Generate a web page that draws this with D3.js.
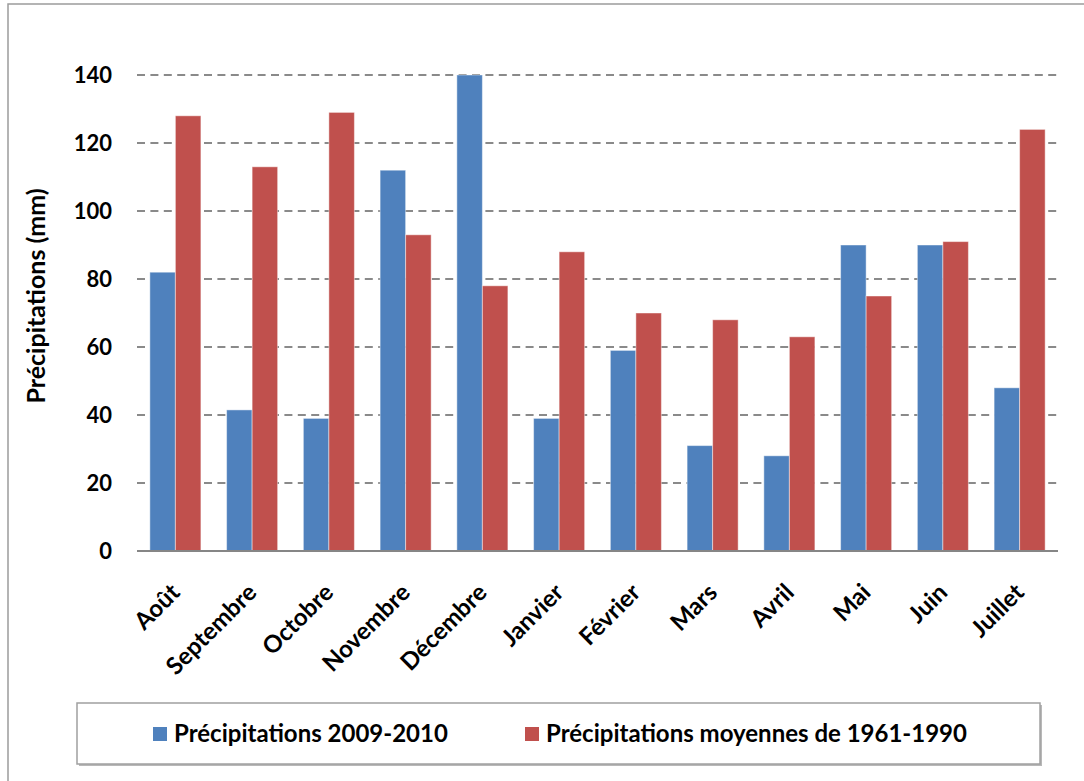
<!DOCTYPE html>
<html>
<head>
<meta charset="utf-8">
<script src="https://cdn.jsdelivr.net/npm/d3@7"></script>
<style>
  html, body { margin: 0; padding: 0; background: #fff; }
  svg { display: block; }
  text { font-family: Lato, "Open Sans", sans-serif; font-weight: 700; fill: #000; }
</style>
</head>
<body>
<svg id="chart" width="1084" height="781"></svg>
<script>
// Monthly precipitation, August 2009 to July 2010, against the 1961-1990 normals
const months = ["Août", "Septembre", "Octobre", "Novembre", "Décembre", "Janvier",
                "Février", "Mars", "Avril", "Mai", "Juin", "Juillet"];
const precip2009_2010 = [82, 41.5, 39, 112, 140, 39, 59, 31, 28, 90, 90, 48];
const precipNormals = [128, 113, 129, 93, 78, 88, 70, 68, 63, 75, 91, 124];
const seriesNames = ["Précipitations 2009-2010", "Précipitations moyennes de 1961-1990"];
const yTicks = [0, 20, 40, 60, 80, 100, 120, 140];
const yTitle = "Précipitations (mm)";

const colors = ["#4F81BD", "#C0504D"];
const series = [precip2009_2010, precipNormals];

const svg = d3.select("#chart");

// chart area frame
svg.append("rect")
  .attr("x", 8).attr("y", 4)
  .attr("width", 1200).attr("height", 900)
  .attr("fill", "#fff")
  .attr("stroke", "#9c9c9c").attr("stroke-width", 1.5);

const plot = { left: 137, right: 1058, top: 75, bottom: 551 };

const x = d3.scaleBand()
  .domain(months)
  .range([plot.left, plot.right])
  .paddingInner(0.335)
  .paddingOuter(0.1675);

const xs = d3.scaleBand()
  .domain(d3.range(series.length))
  .range([0, x.bandwidth()]);

const y = d3.scaleLinear()
  .domain([0, 140])
  .range([plot.bottom, plot.top]);

// dashed horizontal gridlines
svg.append("g")
  .selectAll("line")
  .data(yTicks.filter(d => d > 0))
  .join("line")
  .attr("x1", plot.left).attr("x2", plot.right)
  .attr("y1", d => y(d)).attr("y2", d => y(d))
  .attr("stroke", "#8a8a8a")
  .attr("stroke-width", 2)
  .attr("stroke-dasharray", "8,5.4");

// y axis tick labels
const yAxis = d3.axisLeft(y).tickValues(yTicks).tickSize(0).tickPadding(0).tickFormat(d3.format("d"));
const yg = svg.append("g")
  .attr("transform", `translate(${112},0)`)
  .call(yAxis);
yg.select(".domain").remove();
yg.selectAll("text")
  .attr("font-size", 22)
  .attr("font-family", "Lato, sans-serif")
  .attr("font-weight", 700)
  .attr("dy", "0.36em");

// bars
const groups = svg.append("g")
  .selectAll("g")
  .data(series)
  .join("g")
  .attr("fill", (d, i) => colors[i]);

groups.selectAll("rect")
  .data((vals, si) => vals.map((v, mi) => ({ v, si, m: months[mi] })))
  .join("rect")
  .attr("x", d => x(d.m) + xs(d.si))
  .attr("width", xs.bandwidth())
  .attr("y", d => y(d.v))
  .attr("height", d => y(0) - y(d.v))
  .attr("stroke", "rgba(255,255,255,0.45)")
  .attr("stroke-width", 1);

// baseline
svg.append("line")
  .attr("x1", plot.left).attr("x2", plot.right)
  .attr("y1", y(0)).attr("y2", y(0))
  .attr("stroke", "#868686").attr("stroke-width", 2);

// rotated month labels
svg.append("g")
  .selectAll("text")
  .data(months)
  .join("text")
  .attr("transform", d => `translate(${x(d) + x.bandwidth() / 2 + 6},${594}) rotate(-45)`)
  .attr("text-anchor", "end")
  .attr("font-size", 24)
  .text(d => d);

// y axis title
svg.append("text")
  .attr("transform", `translate(45,${296}) rotate(-90)`)
  .attr("text-anchor", "middle")
  .attr("font-size", 25)
  .text(yTitle);

// legend
const legend = svg.append("g");
legend.append("rect")
  .attr("x", 79).attr("y", 705).attr("width", 963).attr("height", 61)
  .attr("fill", "#b8b8b8");
legend.append("rect")
  .attr("x", 77).attr("y", 703).attr("width", 963).attr("height", 61)
  .attr("fill", "#fff").attr("stroke", "#a0a0a0").attr("stroke-width", 1.5);

const legendX = [153, 525];
const items = legend.selectAll("g.item")
  .data(seriesNames)
  .join("g")
  .attr("class", "item")
  .attr("transform", (d, i) => `translate(${legendX[i]},0)`);
items.append("rect")
  .attr("x", 0).attr("y", 727).attr("width", 14).attr("height", 14)
  .attr("fill", (d, i) => colors[i]);
items.append("text")
  .attr("x", 21).attr("y", 742)
  .attr("font-size", 24)
  .text(d => d);
</script>
</body>
</html>
